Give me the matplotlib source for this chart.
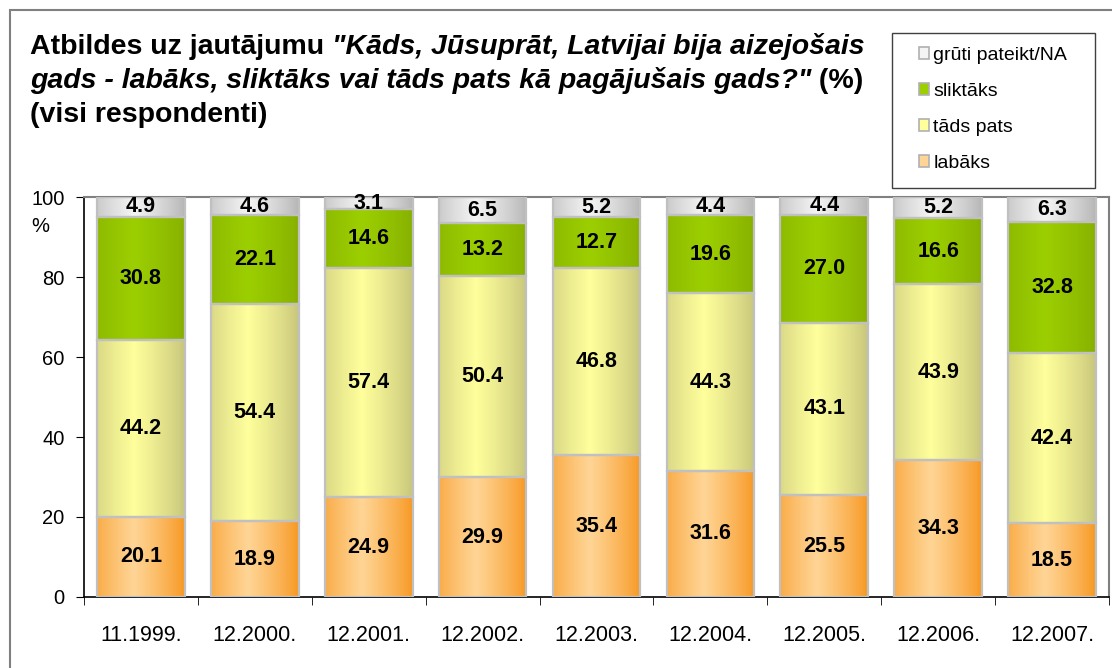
import matplotlib
matplotlib.use("Agg")
import matplotlib.pyplot as plt
import numpy as np
from matplotlib.colors import to_rgb
from matplotlib.patches import Rectangle, Patch

plt.rcParams["font.family"] = ["Liberation Sans", "DejaVu Sans"]

# ---- data ----
periods = ["11.1999.", "12.2000.", "12.2001.", "12.2002.", "12.2003.",
           "12.2004.", "12.2005.", "12.2006.", "12.2007."]
labaks = [20.1, 18.9, 24.9, 29.9, 35.4, 31.6, 25.5, 34.3, 18.5]
tads_pats = [44.2, 54.4, 57.4, 50.4, 46.8, 44.3, 43.1, 43.9, 42.4]
sliktaks = [30.8, 22.1, 14.6, 13.2, 12.7, 19.6, 27.0, 16.6, 32.8]
gruti = [4.9, 4.6, 3.1, 6.5, 5.2, 4.4, 4.4, 5.2, 6.3]

series = [
    ("labāks", labaks, "#F7961E", "#FFD596"),
    ("tāds pats", tads_pats, "#C6C47A", "#FFFF9C"),
    ("sliktāks", sliktaks, "#86AF00", "#9CCF00"),
    ("grūti pateikt/NA", gruti, "#B4B4B4", "#F4F4F4"),
]

W, H = 1112, 668
fig = plt.figure(figsize=(W / 100, H / 100), dpi=100)
ax = fig.add_axes([84 / W, 1 - 597 / H, (1109 - 84) / W, (597 - 197) / H])

bar_w = 0.77
u = np.linspace(0, 1, 200)
# cylinder-like shading: dark at the edges, lightest a bit left of centre
shade = np.clip(1 - np.abs(u - 0.42) / 0.58, 0, 1) ** 0.8


def gradient(edge, centre):
    e, c = np.array(to_rgb(edge)), np.array(to_rgb(centre))
    return (e[None, :] + (c - e)[None, :] * shade[:, None])[None, :, :]


x = np.arange(len(periods))
bottom = np.zeros(len(periods))
for name, vals, edge, centre in series:
    img = gradient(edge, centre)
    for i, v in enumerate(vals):
        x0, x1 = x[i] - bar_w / 2, x[i] + bar_w / 2
        ax.imshow(img, extent=(x0, x1, bottom[i], bottom[i] + v),
                  aspect="auto", interpolation="bilinear", zorder=2)
        ax.add_patch(Rectangle((x0, bottom[i]), bar_w, v, fill=False,
                               edgecolor="#C0C0C0", linewidth=1.6, zorder=3))
        ax.text(x[i], bottom[i] + v / 2, f"{v:.1f}", ha="center",
                va="center", fontsize=15.5, fontweight="bold", zorder=4)
    bottom += np.array(vals)

ax.set_xlim(-0.5, len(periods) - 0.5)
ax.set_ylim(0, 100)
ax.set_yticks(range(0, 101, 20))
ax.set_xticks(x)
ax.set_xticklabels(periods)
ax.set_xticks(np.arange(-0.5, len(periods)), minor=True)
ax.tick_params(axis="x", which="major", length=0, pad=20, labelsize=15.5)
ax.tick_params(axis="x", which="minor", length=6, direction="out")
ax.tick_params(axis="y", length=6, direction="out", pad=8, labelsize=14.5)
for s in ["top", "right"]:
    ax.spines[s].set_color("#808080")
    ax.spines[s].set_linewidth(1.5)
for s in ["left", "bottom"]:
    ax.spines[s].set_linewidth(1.2)

fig.text(40 / W, 1 - 227 / H, "%", fontsize=14.5, ha="center", va="center")

# outer frame
fig.add_artist(Rectangle((10 / W, -1), 5, 1 + (1 - 10 / H), transform=fig.transFigure,
                         fill=False, edgecolor="#808080", linewidth=1.5))

# title with mixed bold / bold italic pieces
renderer = fig.canvas.get_renderer()
title_lines = [
    [("Atbildes uz jautājumu ", "normal"),
     ("\"Kāds, Jūsuprāt, Latvijai bija aizejošais", "italic")],
    [("gads - labāks, sliktāks vai tāds pats kā pagājušais gads?\"", "italic"),
     (" (%)", "normal")],
    [("(visi respondenti)", "normal")],
]
y_px = 54
for line in title_lines:
    xp = 30
    for txt, style in line:
        t = fig.text(xp / W, 1 - y_px / H, txt, fontsize=20.5, fontweight="bold",
                     fontstyle=style, ha="left", va="baseline")
        xp += t.get_window_extent(renderer).width
    y_px += 34

# legend in its own box
fig.add_artist(Rectangle((892 / W, 1 - 188 / H), (1095 - 892) / W, (188 - 33) / H,
                         transform=fig.transFigure, fill=False,
                         edgecolor="#404040", linewidth=1.0))
handles = [Patch(facecolor=c, edgecolor="#B0B0B0", linewidth=1.2, label=n)
           for n, _, e, c in series[::-1]]
fig.legend(handles=handles, loc="upper left",
           bbox_to_anchor=(909 / W, 1 - 37 / H), frameon=False, fontsize=14,
           handlelength=0.55, handleheight=0.55, handletextpad=0.2,
           labelspacing=0.98, borderpad=0)

fig.savefig("out.png", dpi=100)
